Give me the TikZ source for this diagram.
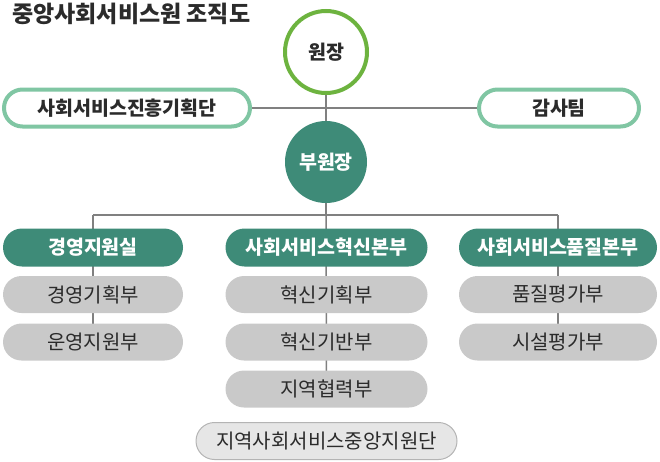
\documentclass[tikz,border=0pt]{standalone}
\usepackage{fontspec}
\setmainfont{Noto Sans CJK KR}
\usetikzlibrary{positioning}
\usetikzlibrary{backgrounds}
\definecolor{ringgreen}{HTML}{6DB33F}
\definecolor{palegreen}{HTML}{80C6A3}
\definecolor{teal}{HTML}{3E8B78}
\definecolor{boxgray}{HTML}{C9C9C9}
\definecolor{lightgray}{HTML}{E6E6E6}
\definecolor{rimgray}{HTML}{B4B4B4}
\definecolor{linegray}{HTML}{808080}
\definecolor{ink}{HTML}{2B2B2B}
\begin{document}
\begin{tikzpicture}[x=1pt,y=-1pt,
                font=\fontsize{19.5}{22}\selectfont,
                head/.style={circle, minimum size=82pt, line width=4pt, font=\fontsize{19.5}{22}\selectfont\bfseries},
                side/.style={rectangle, rounded corners=18.5pt, minimum height=37pt, draw=palegreen, line width=4pt, fill=white, text=ink, font=\fontsize{19.5}{22}\selectfont\bfseries},
                office/.style={rectangle, rounded corners=19pt, minimum height=38pt, fill=teal, text=white, font=\fontsize{19.5}{22}\selectfont\bfseries},
                unit/.style={rectangle, rounded corners=18.5pt, minimum height=37pt, fill=boxgray, text=ink, font=\fontsize{20}{22}\selectfont},
                link/.style={draw=linegray, line width=1.5pt}
            ]
            \useasboundingbox (0,0) rectangle (660,461);
            \node[anchor=west, text=ink, inner sep=0pt, font=\fontsize{23}{26}\selectfont\bfseries] (title) at (12,14) {중앙사회서비스원 조직도};
            % top
            \node[head, draw=ringgreen, fill=white, text=ink] (boss) at (326,52) {원장};
            \node[head, fill=teal, text=white] (deputy) at (326,162) {부원장};
            \node[side, minimum width=246pt] (plan) at (127,108) {사회서비스진흥기획단};
            \node[side, minimum width=160pt] (audit) at (559,108) {감사팀};
            % offices
            \node[office, minimum width=180pt] (mgmt) at (93,247.5) {경영지원실};
            \node[office, minimum width=202pt] (innov) at (326.5,247.5) {사회서비스혁신본부};
            \node[office, minimum width=198pt] (qual) at (558,247.5) {사회서비스품질본부};
            % units
            \node[unit, minimum width=180pt] (mplan) at (93,294.5) {경영기획부};
            \node[unit, minimum width=180pt] (mops) at (93,342) {운영지원부};
            \node[unit, minimum width=202pt] (iplan) at (326.5,294.5) {혁신기획부};
            \node[unit, minimum width=202pt] (ibase) at (326.5,342) {혁신기반부};
            \node[unit, minimum width=202pt] (ilocal) at (326.5,389) {지역협력부};
            \node[unit, minimum width=198pt] (qeval) at (558,294.5) {품질평가부};
            \node[unit, minimum width=198pt] (feval) at (558,342) {시설평가부};
            \node[unit, minimum width=261pt, fill=lightgray, draw=rimgray, line width=1pt] (center) at (326.5,441) {지역사회서비스중앙지원단};
            \coordinate (split) at (326,215);
            \coordinate (lsplit) at (93,215);
            \coordinate (rsplit) at (558,215);
            \begin{scope}[on background layer]
            \path[link] (plan.east) -- (audit.west);
            \path[link] (boss.center) -- (deputy.center);
            \path[link] (deputy.center) -- (split);
            \path[link] (lsplit) -- (rsplit);
            \path[link] (lsplit) -- (mops.center);
            \path[link] (split) -- (ilocal.center);
            \path[link] (rsplit) -- (feval.center);
            \end{scope}
        \end{tikzpicture}
\end{document}
